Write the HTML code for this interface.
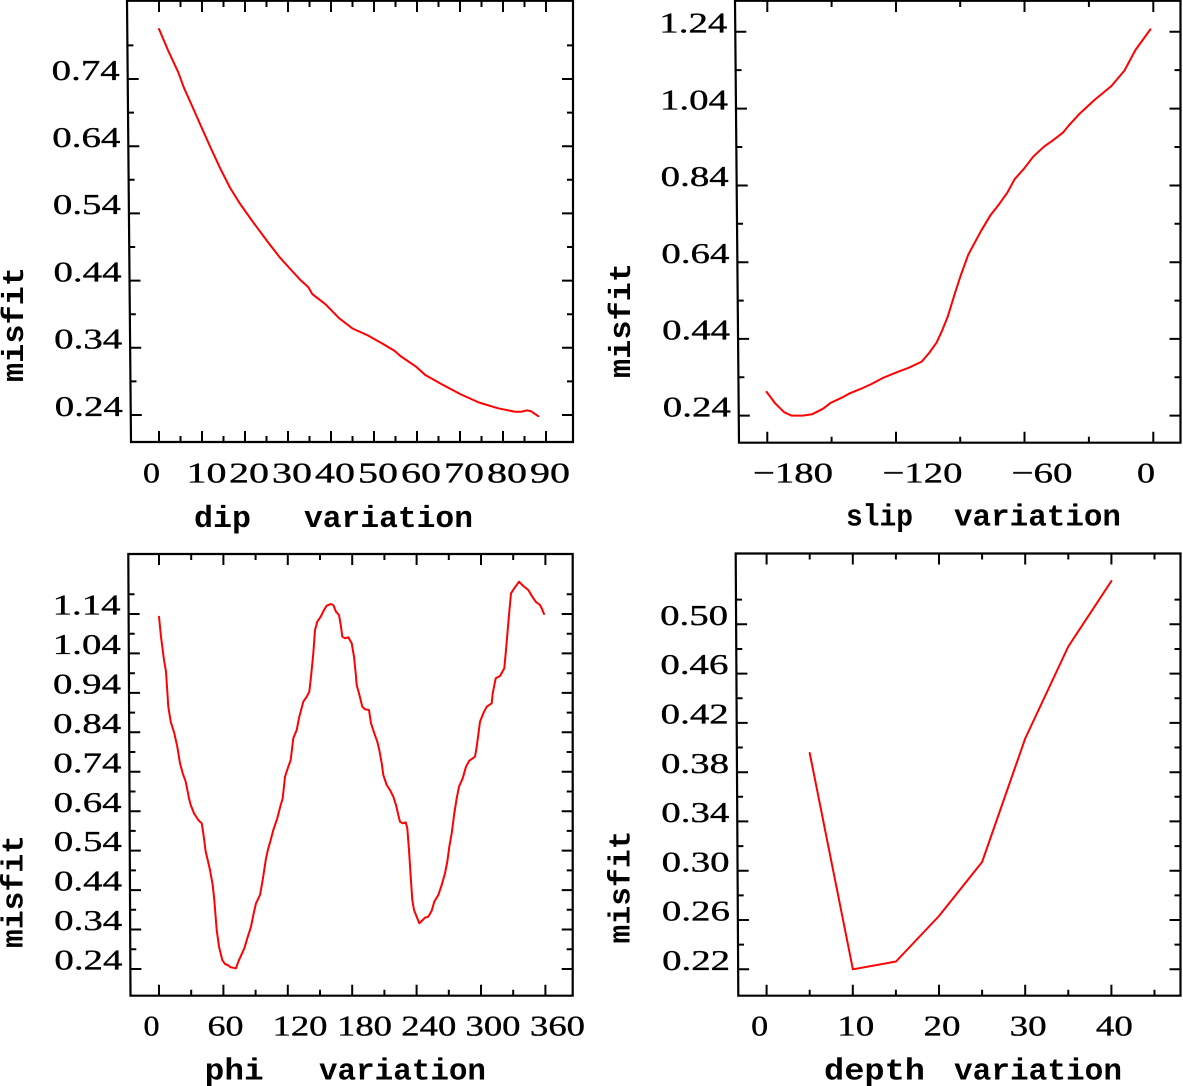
<!DOCTYPE html>
<html><head><meta charset="utf-8"><style>
html,body{margin:0;padding:0;background:#fff;}
svg{display:block;}
.t{font-family:"Liberation Serif",serif;font-size:29px;fill:#000;stroke:#000;stroke-width:0.35px;}
.b{font-family:"Liberation Mono",monospace;font-size:31px;font-weight:bold;fill:#000;}
</style></head><body>
<svg width="1183" height="1086" viewBox="0 0 1183 1086" xmlns="http://www.w3.org/2000/svg">
<rect width="1183" height="1086" fill="#fff"/>
<g fill="none" stroke="#000" stroke-width="2.2">
<path d="M127,0.8 L573,0.8 L573,442 L131,442 Z"/>
<path d="M735,0.8 L1180.5,0.8 L1180.5,442.7 L739,442.7 Z"/>
<path d="M128.3,554 L572.7,554 L572.7,995.7 L130.5,995.7 Z"/>
<path d="M735.7,553.5 L1180.5,553.5 L1180.5,995.7 L738.3,995.7 Z"/>
</g>
<g fill="none" stroke="#000" stroke-width="2">
<path d="M127.7,79h11 M128.3,146.2h11 M128.9,213.4h11 M129.5,280.6h11 M130.2,347.8h11 M130.8,415h11
M127.4,45.4h6 M128,112.6h6 M128.6,179.8h6 M129.2,247h6 M129.8,314.2h6 M130.5,381.4h6
M573,79h-11 M573,146.2h-11 M573,213.4h-11 M573,280.6h-11 M573,347.8h-11 M573,415h-11
M573,45.4h-6 M573,112.6h-6 M573,179.8h-6 M573,247h-6 M573,314.2h-6 M573,381.4h-6
M159,442v-11 M202,442v-11 M245,442v-11 M288,442v-11 M331,442v-11 M374,442v-11 M417,442v-11 M460,442v-11 M503,442v-11 M546,442v-11
M180.5,442v-6 M223.5,442v-6 M266.5,442v-6 M309.5,442v-6 M352.5,442v-6 M395.5,442v-6 M438.5,442v-6 M481.5,442v-6 M524.5,442v-6
M159,0v12 M202,0v12 M245,0v12 M288,0v12 M331,0v12 M374,0v12 M417,0v12 M460,0v12 M503,0v12 M546,0v12
M180.5,0v7 M223.5,0v7 M266.5,0v7 M309.5,0v7 M352.5,0v7 M395.5,0v7 M438.5,0v7 M481.5,0v7 M524.5,0v7"/>
<path d="M735.3,31.7h11 M736,108.6h11 M736.7,185.5h11 M737.4,262.2h11 M738.1,338.9h11 M738.8,415.6h11
M735.6,70.1h6 M736.3,147h6 M737,223.8h6 M737.7,300.6h6 M738.4,377.3h6
M1180.5,31.7h-11 M1180.5,108.6h-11 M1180.5,185.5h-11 M1180.5,262.2h-11 M1180.5,338.9h-11 M1180.5,415.6h-11
M1180.5,70.1h-6 M1180.5,147h-6 M1180.5,223.8h-6 M1180.5,300.6h-6 M1180.5,377.3h-6
M767.3,442.7v-11 M896,442.7v-11 M1024.5,442.7v-11 M1153.3,442.7v-11
M831.6,442.7v-6 M960.2,442.7v-6 M1088.9,442.7v-6
M767.3,0v12 M896,0v12 M1024.5,0v12 M1153.3,0v12
M831.6,0v7 M960.2,0v7 M1088.9,0v7"/>
<path d="M128.6,614h11 M128.8,653.4h11 M129,692.9h11 M129.2,732.3h11 M129.4,771.8h11 M129.6,811.2h11 M129.8,850.6h11 M130,890.1h11 M130.2,929.5h11 M130.4,969h11
M128.5,594.3h6 M128.7,633.7h6 M128.9,673.2h6 M129.1,712.6h6 M129.3,752h6 M129.5,791.5h6 M129.7,830.9h6 M129.9,870.4h6 M130.1,909.8h6 M130.3,949.2h6
M572.7,614h-11 M572.7,653.4h-11 M572.7,692.9h-11 M572.7,732.3h-11 M572.7,771.8h-11 M572.7,811.2h-11 M572.7,850.6h-11 M572.7,890.1h-11 M572.7,929.5h-11 M572.7,969h-11
M572.7,594.3h-6 M572.7,633.7h-6 M572.7,673.2h-6 M572.7,712.6h-6 M572.7,752h-6 M572.7,791.5h-6 M572.7,830.9h-6 M572.7,870.4h-6 M572.7,909.8h-6 M572.7,949.2h-6
M159,995.7v-11 M223.4,995.7v-11 M287.8,995.7v-11 M352.2,995.7v-11 M416.6,995.7v-11 M481,995.7v-11 M545.4,995.7v-11
M191.2,995.7v-6 M255.6,995.7v-6 M320,995.7v-6 M384.4,995.7v-6 M448.8,995.7v-6 M513.2,995.7v-6
M159,554v11 M223.4,554v11 M287.8,554v11 M352.2,554v11 M416.6,554v11 M481,554v11 M545.4,554v11
M191.2,554v6 M255.6,554v6 M320,554v6 M384.4,554v6 M448.8,554v6 M513.2,554v6"/>
<path d="M736.1,624.3h11 M736.4,673.6h11 M736.7,722.9h11 M737,772.2h11 M737.3,821.4h11 M737.6,870.7h11 M737.9,920h11 M738.1,969.3h11
M736,599.6h6 M736.3,649h6 M736.6,698.2h6 M736.8,747.5h6 M737.1,796.8h6 M737.4,846.1h6 M737.7,895.4h6 M738,944.6h6
M1180.5,624.3h-11 M1180.5,673.6h-11 M1180.5,722.9h-11 M1180.5,772.2h-11 M1180.5,821.4h-11 M1180.5,870.7h-11 M1180.5,920h-11 M1180.5,969.3h-11
M1180.5,599.6h-6 M1180.5,649h-6 M1180.5,698.2h-6 M1180.5,747.5h-6 M1180.5,796.8h-6 M1180.5,846.1h-6 M1180.5,895.4h-6 M1180.5,944.6h-6
M766.6,995.7v-11 M852.8,995.7v-11 M939,995.7v-11 M1025.2,995.7v-11 M1111.4,995.7v-11
M809.7,995.7v-6 M895.9,995.7v-6 M982.1,995.7v-6 M1068.3,995.7v-6 M1154.5,995.7v-6
M766.6,553.5v11 M852.8,553.5v11 M939,553.5v11 M1025.2,553.5v11 M1111.4,553.5v11
M809.7,553.5v6 M895.9,553.5v6 M982.1,553.5v6 M1068.3,553.5v6 M1154.5,553.5v6"/>
</g>

<g fill="none" stroke="#ff0000" stroke-width="2" stroke-linejoin="round" stroke-linecap="round">
<polyline points="159,29 168.6,51.6 178.2,72.2 183.9,87.7 191.6,104.9 199.2,122.1 210.7,147.9 220.3,168.6 229.9,187.5 239.5,203 252.9,221.9 268.2,242.5 279.7,257.3 291.2,270 300.8,280.4 308.4,287.2 312.3,294.1 325.7,304.4 339.1,318.2 352.5,328.5 367.8,335.4 383.1,344 394.6,350.9 400.4,356 415.7,366.4 425.3,375 440.6,383.6 459.8,393.9 478.9,402.5 498.1,408.3 515.3,411.8 521.1,411.8 526.8,410.4 530.7,411.1 538.3,416.2"/>
<polyline points="766.6,391.9 774.8,402.9 784.1,412.2 791.5,415.6 802.7,415.6 812,414.3 823.1,408.7 830.6,402.9 841.7,397.7 849.2,393.6 860.3,389.1 871.5,384 882.6,378.1 897.5,371.9 908.7,367.8 921.7,361.6 929.1,353 936.6,342.6 942.1,330.6 947.7,316.8 955.1,292.7 960.7,275.5 968.2,254.8 973.7,244.5 981.2,230.7 990.5,215.2 999.8,203.2 1007.2,192.8 1014.7,179.1 1024,168.7 1033.2,156.7 1044.4,146.3 1051.8,141.2 1063,132.6 1068.6,125.7 1079.7,113.6 1094.6,99.9 1111.3,86.1 1124.4,70.6 1135.5,49.9 1143,39.6 1150.4,29.3"/>
<polyline points="159,616.7 161,636.7 164,660 166,671.7 168.3,706.7 170.7,721.7 174.3,733.3 177.3,746.7 180,763.3 182.7,773.3 185.7,781.7 189,798.3 190.7,805 194,813.3 198.3,820 201.7,823.3 203.3,833.3 205.7,851.7 207.7,860 210,870 212.7,885 214.3,900 216.7,930 219,946.7 222.3,960 225,964 227.7,965 230.7,967.3 236,968.3 238.3,961.7 241,955.7 244.3,948.3 247.3,938.3 251,926.7 253.7,913.3 256,903.3 260,895 262.7,880 266,858.3 268.3,848.3 270.7,840 273.3,830 277.3,818.3 280.7,805 282.7,798.3 285,776.7 288.3,766.7 290.7,760 293.3,738.3 296.7,730 299.3,716.7 303.3,701.7 306.7,696.7 309.3,691.7 311,676.7 313.3,653.3 315,630 317.3,621.7 320.7,616.7 324,610 326.7,605.7 330.7,604 333.3,605 336,611.7 339,615 341,626.7 342.3,636.7 345,638.3 348.3,637.3 351.7,643.3 354,656.7 355.7,673.3 356.7,685 359,693.3 362.3,706.7 365,709.3 369,710 371,723.3 374.3,733.3 377.3,741.7 379.3,750 381.7,763.3 383.3,775 386.7,785 390,790 393.3,796.7 396,805 398.3,815 400,821.7 402.7,823.3 405.7,822.3 407.3,828.3 409,850 410.7,876.7 412.3,900 414,910 416.7,916.7 419.3,923.3 421.7,921 425,917.7 428.3,916.7 431.7,910.7 434.3,901.7 438.3,895 441.7,885 445,873.3 447.3,861.7 449.3,846.7 451.7,833.3 454.3,813.3 456.7,798.3 459,786.7 462.7,778.3 466,766.7 469.3,760.7 475,756.7 476.7,746.7 480,721.7 483.3,713.3 486.7,706.7 491.7,703.3 492.7,693.3 495.7,678.3 500,676 504.3,668.3 506,650 507.7,630 509.3,611.7 511,593.3 514.3,588.3 519,581.7 523.3,586 528.3,590 532.3,596.7 535.7,601.7 540,605 542,609 544,614"/>
<polyline points="809.7,753 852.9,969.3 896,961.5 939,916 982.1,862 1025.2,738.5 1068.3,646.5 1111.4,581"/>
</g>

<g class="t" text-anchor="end">
<text x="119.7" y="80" textLength="68" lengthAdjust="spacingAndGlyphs">0.74</text>
<text x="120.3" y="147" textLength="68" lengthAdjust="spacingAndGlyphs">0.64</text>
<text x="120.9" y="214" textLength="68" lengthAdjust="spacingAndGlyphs">0.54</text>
<text x="121.5" y="281.3" textLength="68" lengthAdjust="spacingAndGlyphs">0.44</text>
<text x="122.2" y="348.5" textLength="68" lengthAdjust="spacingAndGlyphs">0.34</text>
<text x="122.8" y="415.8" textLength="68" lengthAdjust="spacingAndGlyphs">0.24</text>

<text x="727.3" y="32.4" textLength="68" lengthAdjust="spacingAndGlyphs">1.24</text>
<text x="728" y="109.3" textLength="68" lengthAdjust="spacingAndGlyphs">1.04</text>
<text x="728.7" y="186.2" textLength="68" lengthAdjust="spacingAndGlyphs">0.84</text>
<text x="729.4" y="262.9" textLength="68" lengthAdjust="spacingAndGlyphs">0.64</text>
<text x="730.1" y="339.6" textLength="68" lengthAdjust="spacingAndGlyphs">0.44</text>
<text x="730.8" y="416.3" textLength="68" lengthAdjust="spacingAndGlyphs">0.24</text>

<text x="120.6" y="614.6" textLength="68" lengthAdjust="spacingAndGlyphs">1.14</text>
<text x="120.8" y="654" textLength="68" lengthAdjust="spacingAndGlyphs">1.04</text>
<text x="121" y="693.5" textLength="68" lengthAdjust="spacingAndGlyphs">0.94</text>
<text x="121.2" y="732.9" textLength="68" lengthAdjust="spacingAndGlyphs">0.84</text>
<text x="121.4" y="772.4" textLength="68" lengthAdjust="spacingAndGlyphs">0.74</text>
<text x="121.6" y="811.8" textLength="68" lengthAdjust="spacingAndGlyphs">0.64</text>
<text x="121.8" y="851.2" textLength="68" lengthAdjust="spacingAndGlyphs">0.54</text>
<text x="122" y="890.7" textLength="68" lengthAdjust="spacingAndGlyphs">0.44</text>
<text x="122.2" y="930.1" textLength="68" lengthAdjust="spacingAndGlyphs">0.34</text>
<text x="122.4" y="969.6" textLength="68" lengthAdjust="spacingAndGlyphs">0.24</text>

<text x="728.1" y="624.9" textLength="68" lengthAdjust="spacingAndGlyphs">0.50</text>
<text x="728.4" y="674.2" textLength="68" lengthAdjust="spacingAndGlyphs">0.46</text>
<text x="728.7" y="723.5" textLength="68" lengthAdjust="spacingAndGlyphs">0.42</text>
<text x="729" y="772.8" textLength="68" lengthAdjust="spacingAndGlyphs">0.38</text>
<text x="729.3" y="822" textLength="68" lengthAdjust="spacingAndGlyphs">0.34</text>
<text x="729.6" y="871.3" textLength="68" lengthAdjust="spacingAndGlyphs">0.30</text>
<text x="729.9" y="920.6" textLength="68" lengthAdjust="spacingAndGlyphs">0.26</text>
<text x="730.1" y="969.9" textLength="68" lengthAdjust="spacingAndGlyphs">0.22</text>
</g>

<g class="t">
<text x="143" y="482.5" textLength="17" lengthAdjust="spacingAndGlyphs">0</text>
<text x="186.5" y="482.5" textLength="40" lengthAdjust="spacingAndGlyphs">10</text>
<text x="229" y="482.5" textLength="40" lengthAdjust="spacingAndGlyphs">20</text>
<text x="272" y="482.5" textLength="40" lengthAdjust="spacingAndGlyphs">30</text>
<text x="315" y="482.5" textLength="40" lengthAdjust="spacingAndGlyphs">40</text>
<text x="358" y="482.5" textLength="40" lengthAdjust="spacingAndGlyphs">50</text>
<text x="401" y="482.5" textLength="40" lengthAdjust="spacingAndGlyphs">60</text>
<text x="444" y="482.5" textLength="40" lengthAdjust="spacingAndGlyphs">70</text>
<text x="487" y="482.5" textLength="40" lengthAdjust="spacingAndGlyphs">80</text>
<text x="530" y="482.5" textLength="40" lengthAdjust="spacingAndGlyphs">90</text>

<text x="753" y="482.5" textLength="80" lengthAdjust="spacingAndGlyphs">−180</text>
<text x="882.5" y="482.5" textLength="80" lengthAdjust="spacingAndGlyphs">−120</text>
<text x="1011.5" y="482.5" textLength="61" lengthAdjust="spacingAndGlyphs">−60</text>
<text x="1137" y="482.5" textLength="18" lengthAdjust="spacingAndGlyphs">0</text>

<text x="143.5" y="1035.7" textLength="16" lengthAdjust="spacingAndGlyphs">0</text>
<text x="207.5" y="1035.7" textLength="36" lengthAdjust="spacingAndGlyphs">60</text>
<text x="272.5" y="1035.7" textLength="55" lengthAdjust="spacingAndGlyphs">120</text>
<text x="337" y="1035.7" textLength="55" lengthAdjust="spacingAndGlyphs">180</text>
<text x="401.3" y="1035.7" textLength="55" lengthAdjust="spacingAndGlyphs">240</text>
<text x="465.5" y="1035.7" textLength="55" lengthAdjust="spacingAndGlyphs">300</text>
<text x="530" y="1035.7" textLength="55" lengthAdjust="spacingAndGlyphs">360</text>

<text x="751.1" y="1035.7" textLength="17" lengthAdjust="spacingAndGlyphs">0</text>
<text x="837.3" y="1035.7" textLength="37" lengthAdjust="spacingAndGlyphs">10</text>
<text x="923.5" y="1035.7" textLength="37" lengthAdjust="spacingAndGlyphs">20</text>
<text x="1009.7" y="1035.7" textLength="37" lengthAdjust="spacingAndGlyphs">30</text>
<text x="1095.9" y="1035.7" textLength="37" lengthAdjust="spacingAndGlyphs">40</text>
</g>

<g class="b">
<text x="194" y="527" textLength="57" lengthAdjust="spacingAndGlyphs">dip</text>
<text x="304" y="527" textLength="169" lengthAdjust="spacingAndGlyphs">variation</text>
<text x="846" y="525.5" textLength="67" lengthAdjust="spacingAndGlyphs">slip</text>
<text x="954" y="525.5" textLength="167" lengthAdjust="spacingAndGlyphs">variation</text>
<text x="204.7" y="1079.5" textLength="59" lengthAdjust="spacingAndGlyphs">phi</text>
<text x="319" y="1079.5" textLength="167" lengthAdjust="spacingAndGlyphs">variation</text>
<text x="824" y="1079.5" textLength="101" lengthAdjust="spacingAndGlyphs">depth</text>
<text x="954" y="1079.5" textLength="168" lengthAdjust="spacingAndGlyphs">variation</text>

<text transform="translate(23,382) rotate(-90)" x="0" y="0" textLength="115" lengthAdjust="spacingAndGlyphs">misfit</text>
<text transform="translate(630,378) rotate(-90)" x="0" y="0" textLength="115" lengthAdjust="spacingAndGlyphs">misfit</text>
<text transform="translate(22.5,948) rotate(-90)" x="0" y="0" textLength="113" lengthAdjust="spacingAndGlyphs">misfit</text>
<text transform="translate(629.5,943.5) rotate(-90)" x="0" y="0" textLength="113" lengthAdjust="spacingAndGlyphs">misfit</text>
</g>
</svg>
</body></html>
